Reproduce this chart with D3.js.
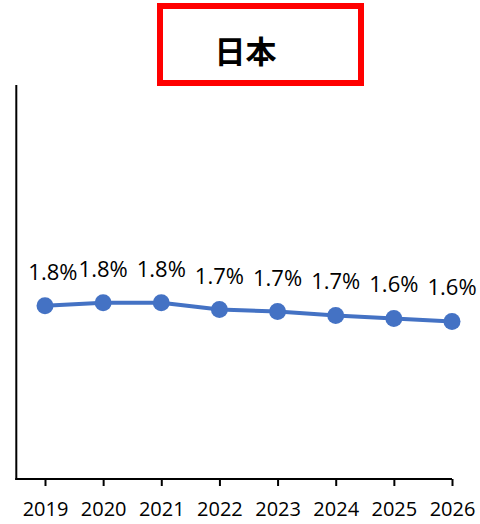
<!DOCTYPE html>
<html><head><meta charset="utf-8">
<script src="https://cdn.jsdelivr.net/npm/d3@7"></script>
<style>body{margin:0;background:#fff;}svg{display:block;}</style>
</head><body>
<script>
const title = "日本";
const years = ["2019","2020","2021","2022","2023","2024","2025","2026"];
const values = [1.76, 1.79, 1.79, 1.72, 1.70, 1.66, 1.63, 1.60];
const yDomain = [0, 4];

const W = 480, H = 524;
const svg = d3.select("body").append("svg").attr("width", W).attr("height", H);

// title box
svg.append("rect").attr("x",160).attr("y",6).attr("width",201).attr("height",77)
  .attr("fill","#fff").attr("stroke","#ff0000").attr("stroke-width",6);
svg.append("text").attr("x",245.5).attr("y",63).attr("text-anchor","middle")
  .attr("font-family","'Noto Sans CJK JP'").attr("font-weight","bold")
  .attr("font-size",31).attr("fill","#000").text(title);

const plotLeft = 16.3, plotTop = 85, plotBottom = 479;
const x = d3.scalePoint().domain(years).range([45, 452]);
const y = d3.scaleLinear().domain(yDomain).range([plotBottom, plotTop]);

// y axis line
svg.append("line").attr("x1",plotLeft).attr("x2",plotLeft).attr("y1",plotTop).attr("y2",plotBottom+1)
  .attr("stroke","#000").attr("stroke-width",2);

// x axis
const xa = svg.append("g").attr("transform",`translate(0,${plotBottom})`)
  .call(d3.axisBottom(x).tickSize(7).tickSizeOuter(0).tickPadding(15));
xa.select(".domain").remove();
xa.append("line").attr("x1",plotLeft-1).attr("x2",452).attr("y1",0).attr("y2",0)
  .attr("stroke","#000").attr("stroke-width",2);
xa.selectAll(".tick line").attr("stroke","#000").attr("stroke-width",2);
xa.selectAll(".tick text").attr("font-family","'Open Sans'").attr("font-size",20)
  .attr("fill","#000").attr("dy",0).attr("y",37);

const pts = years.map((yr,i)=>({yr, v: values[i]}));

svg.append("path").datum(pts)
  .attr("d", d3.line().x(d=>x(d.yr)).y(d=>y(d.v)))
  .attr("fill","none").attr("stroke","#4472C4").attr("stroke-width",4).attr("stroke-linejoin","round");

svg.selectAll("circle.pt").data(pts).join("circle").attr("class","pt")
  .attr("cx",d=>x(d.yr)).attr("cy",d=>y(d.v)).attr("r",8.5).attr("fill","#4472C4");

const lbl = svg.selectAll("text.lbl").data(pts).join("text").attr("class","lbl")
  .attr("font-family","'Open Sans'").attr("font-size",22).attr("fill","#000")
  .attr("text-anchor","middle")
  .attr("y",d=>y(d.v)-26)
  .text(d=>d.v.toFixed(1)+"%");
// keep labels clear of the vertical axis
lbl.attr("x", function(d){
  const w = this.getComputedTextLength();
  return Math.max(x(d.yr), plotLeft + 12 + w/2);
});
</script>
</body></html>
